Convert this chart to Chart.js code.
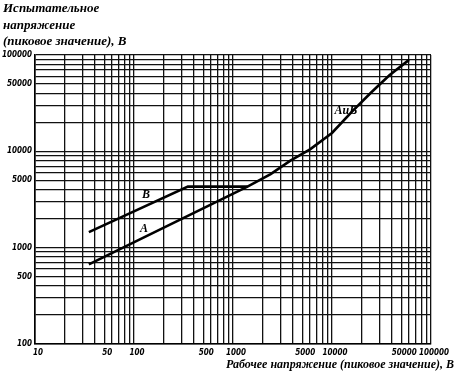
<!DOCTYPE html>
<html>
<head>
<meta charset="utf-8">
<script src="https://cdn.jsdelivr.net/npm/chart.js@4"></script>
<style>
  html, body { margin: 0; padding: 0; background: #fff; }
  #wrap { width: 459px; height: 377px; }
</style>
</head>
<body>
<div id="wrap"><canvas id="chart" width="459" height="377"></canvas></div>
<script>
// Curve A (and the common part "A и B" above ~1400 V)
const aWork = [35, 1400, 2400, 3800, 6000, 10000, 16000, 25000, 38000, 60000];
const aTest = [670, 4300, 5800, 8000, 10500, 15500, 26000, 41000, 61500, 89000];
// Curve B (joins A at the end)
const bWork = [35, 350, 1400];
const bTest = [1450, 4300, 4300];

// Grid ticks and the ones that carry a label
const xGrid = [10,20,30,40,50,60,70,80,90,100,200,300,400,500,600,700,800,900,
  1000,2000,3000,4000,5000,6000,7000,8000,9000,10000,20000,30000,40000,50000,
  60000,70000,80000,90000,100000];
const yGrid = [100,200,300,400,500,600,700,800,900,1000,2000,3000,4000,5000,
  6000,7000,8000,9000,10000,20000,30000,40000,50000,60000,70000,80000,90000,100000];
const xLabels = [10, 50, 100, 500, 1000, 5000, 10000, 50000, 100000];
const yLabels = [100, 500, 1000, 5000, 10000, 50000, 100000];

// Curve labels: [text, x, y]
const curveNotes = [['В', 132, 3560], ['А', 126, 1580], ['АиВ', 13800, 26500]];

const yTitle = ['Испытательное', 'напряжение', '(пиковое значение), В'];
const xTitle = 'Рабочее напряжение (пиковое значение), В';

const tickFont = { family: '"DejaVu Sans Condensed"', size: 8, style: 'italic', weight: 'bold' };

const toPoints = (xs, ys) => xs.map((x, i) => ({ x: x, y: ys[i] }));

const textPlugin = {
  id: 'texts',
  afterDraw(chart) {
    const ctx = chart.ctx;
    const xs = chart.scales.x, ys = chart.scales.y;
    ctx.save();
    ctx.fillStyle = '#000';
    ctx.font = 'italic bold 13px "Liberation Serif"';
    ctx.textAlign = 'left';
    ctx.textBaseline = 'alphabetic';
    yTitle.forEach((t, i) => ctx.fillText(t, 3, 12 + i * 16.5));
    ctx.font = 'italic bold 12px "Liberation Serif"';
    ctx.textAlign = 'right';
    ctx.fillText(xTitle, 454, 368);
    ctx.textAlign = 'center';
    ctx.textBaseline = 'middle';
    ctx.font = 'italic bold 12px "Liberation Serif"';
    curveNotes.forEach(n => {
      ctx.fillText(n[0], xs.getPixelForValue(n[1]), ys.getPixelForValue(n[2]));
    });
    ctx.restore();
  }
};

const gridOpts = { color: '#111', lineWidth: 1.3, drawTicks: false };
const borderOpts = { color: '#000', width: 1.6 };

new Chart(document.getElementById('chart'), {
  type: 'line',
  data: {
    datasets: [
      { label: 'A', data: toPoints(aWork, aTest) },
      { label: 'B', data: toPoints(bWork, bTest) }
    ]
  },
  options: {
    responsive: false,
    animation: false,
    layout: { padding: { left: 0, right: 28, top: 55, bottom: 0 } },
    elements: {
      line: { borderColor: '#000', borderWidth: 2.6, tension: 0, fill: false },
      point: { radius: 0 }
    },
    plugins: { legend: { display: false }, tooltip: { enabled: false } },
    scales: {
      x: {
        type: 'logarithmic',
        min: 10, max: 100000,
        grid: gridOpts,
        border: borderOpts,
        afterBuildTicks: s => { s.ticks = xGrid.map(v => ({ value: v })); },
        afterFit: s => { s.height = 33; },
        ticks: {
          autoSkip: false, maxRotation: 0, padding: 4, labelOffset: 3,
          color: '#000', font: tickFont,
          callback: v => xLabels.includes(v) ? String(v) : ''
        }
      },
      y: {
        type: 'logarithmic',
        min: 100, max: 100000,
        grid: gridOpts,
        border: borderOpts,
        afterBuildTicks: s => { s.ticks = yGrid.map(v => ({ value: v })); },
        afterFit: s => { s.width = 35; },
        ticks: {
          autoSkip: false, padding: 3,
          color: '#000', font: tickFont,
          callback: v => yLabels.includes(v) ? String(v) : ''
        }
      }
    }
  },
  plugins: [textPlugin]
});
</script>
</body>
</html>
